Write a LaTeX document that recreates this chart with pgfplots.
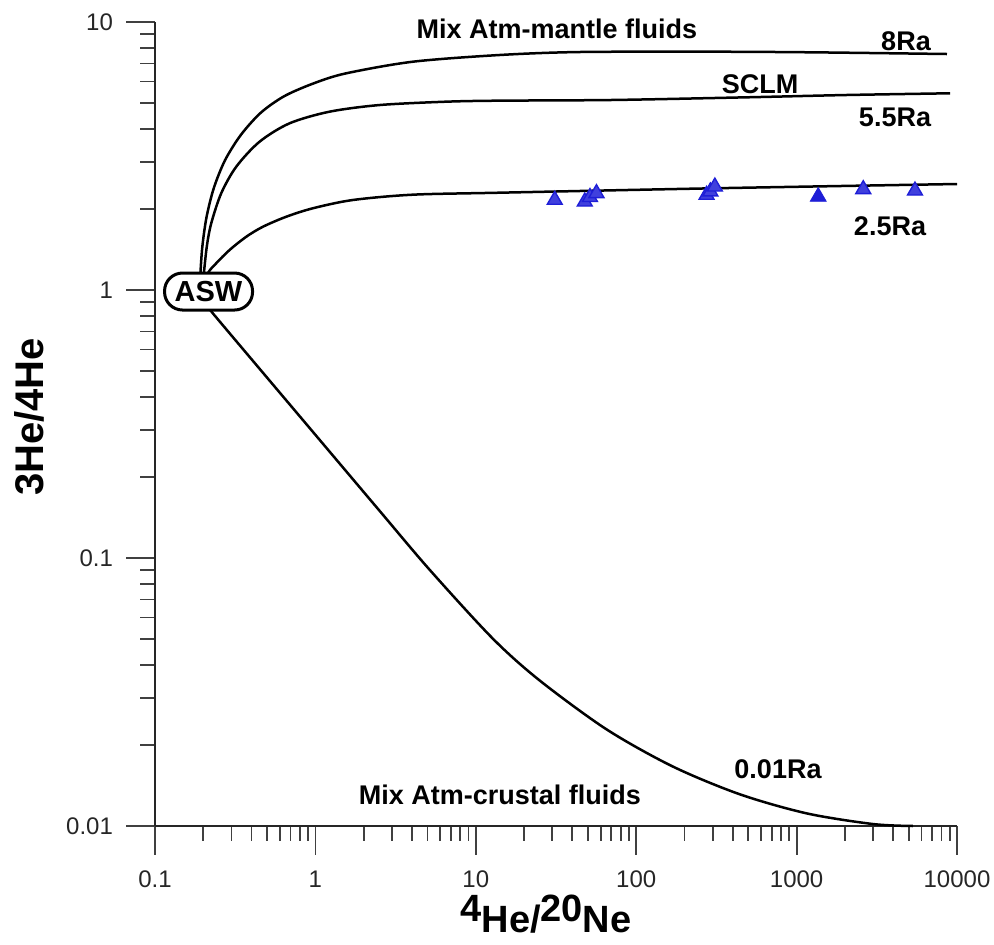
\documentclass[border=0pt]{standalone}
\usepackage{fontspec}
\setmainfont{Liberation Sans}
\usepackage{pgfplots}
\pgfplotsset{compat=1.18}
\definecolor{tri}{RGB}{30,30,215}
\begin{document}
\begin{tikzpicture}
\begin{axis}[
  at={(0,0)}, anchor=south west,
  width=401pt, height=402pt, scale only axis,
  xmode=log, ymode=log,
  xmin=0.1, xmax=10000, ymin=0.01, ymax=10,
  axis lines=left,
  axis line style={-, line width=0.8pt, black!85},
  xtick={0.1,1,10,100,1000,10000},
  xticklabels={0.1,1,10,100,1000,10000},
  ytick={0.01,0.1,1,10},
  yticklabels={0.01,0.1,1,10},
  minor xtick={0.2,0.3,0.4,0.5,0.6,0.7,0.8,0.9,2,3,4,5,6,7,8,9,20,30,40,50,60,70,80,90,200,300,400,500,600,700,800,900,2000,3000,4000,5000,6000,7000,8000,9000},
  minor ytick={0.02,0.03,0.04,0.05,0.06,0.07,0.08,0.09,0.2,0.3,0.4,0.5,0.6,0.7,0.8,0.9,2,3,4,5,6,7,8,9},
  tick align=outside,
  major tick length=14.5pt, minor tick length=7.5pt,
  every tick/.style={black!75, line width=0.9pt},
  tick label style={font=\fontsize{12}{12}\selectfont, text=black!85},
  xticklabel style={yshift=-4.5pt},
  yticklabel style={xshift=-3pt},
  clip=false,
]
% 8Ra mixing curve
\addplot[black, line width=1.25pt, smooth] coordinates {
(0.19,1.0) (0.1914,1.121) (0.1973,1.449) (0.2096,1.871) (0.2327,2.402)
(0.2733,3.050) (0.3435,3.795) (0.4584,4.596) (0.6426,5.295) (0.9886,5.921)
(1.559,6.437) (4.057,7.111) (14.10,7.532) (44.48,7.728) (300.6,7.748)
(1264,7.707) (8661,7.596)};
% SCLM 5.5Ra
\addplot[black, line width=1.25pt, smooth] coordinates {
(0.197,1.0) (0.2007,1.121) (0.2103,1.451) (0.2242,1.773) (0.2588,2.296)
(0.3210,2.884) (0.4485,3.575) (0.6904,4.188) (1.226,4.628) (2.515,4.900)
(6.556,5.043) (14.10,5.087) (71.45,5.117) (489.8,5.236) (2060,5.341) (9045,5.420)};
% 2.5Ra
\addplot[black, line width=1.25pt, smooth] coordinates {
(0.2,1.0) (0.2135,1.154) (0.2408,1.258) (0.2916,1.410) (0.3706,1.580)
(0.4706,1.722) (0.6585,1.877) (0.9647,2.018) (1.713,2.167) (4.057,2.268)
(14.10,2.307) (300.6,2.396) (10000,2.486)};
% 0.01Ra crustal
\addplot[black, line width=1.25pt, smooth] coordinates {
(0.18,0.98) (0.2294,0.8185) (0.4485,0.5085) (0.9605,0.2965) (2.515,0.1499)
(5.157,0.09036) (12.75,0.05007) (25.04,0.03490) (65.56,0.02291) (169.2,0.01667)
(442.9,0.01313) (1160,0.01114) (2992,0.01017) (5315,0.01)};
% samples
\addplot[only marks, mark=triangle*, mark size=4.3pt, mark options={fill=tri!85, draw=tri, line width=0.7pt}] coordinates {
(31.06,2.167) (47.79,2.135) (51.5,2.22) (56.53,2.296) (274.6,2.262) (290,2.33) (309.3,2.429)
(2603,2.376) (5470,2.347)};
\addplot[only marks, mark=triangle*, mark size=4.6pt, mark options={fill=tri, draw=tri}] coordinates {
(1364,2.229)};
\node[draw=black, line width=1.5pt, fill=white, rounded corners=9pt,
  minimum width=44pt, minimum height=18.5pt, inner sep=0pt,
  font=\bfseries\fontsize{14.5}{14.5}\selectfont] at (axis cs:0.2157,0.987) {ASW};
\end{axis}
\begin{scope}[every node/.style={font=\bfseries\fontsize{13.5}{13.5}\selectfont, inner sep=0pt}]
\node at (201pt,398.5pt) {Mix Atm-mantle fluids};
\node at (375.5pt,392.25pt) {8Ra};
\node at (302.5pt,371pt) {SCLM};
\node at (370pt,354.5pt) {5.5Ra};
\node at (367.5pt,300pt) {2.5Ra};
\node at (311.5pt,28.5pt) {0.01Ra};
\node at (172.5pt,15.5pt) {Mix Atm-crustal fluids};
\end{scope}
\node[rotate=90, font=\bfseries\fontsize{20}{20}\selectfont, inner sep=0pt] at (-62.75pt,204.5pt) {3He/4He};
\node[font=\bfseries\fontsize{19}{19}\selectfont, inner sep=0pt] at (195.5pt,-44pt)
  {\raisebox{0.3em}{4}He/\raisebox{0.3em}{20}Ne};
\pgfresetboundingbox
\path (-77.5pt,-59.5pt) rectangle (419.5pt,413pt);
\end{tikzpicture}
\end{document}
